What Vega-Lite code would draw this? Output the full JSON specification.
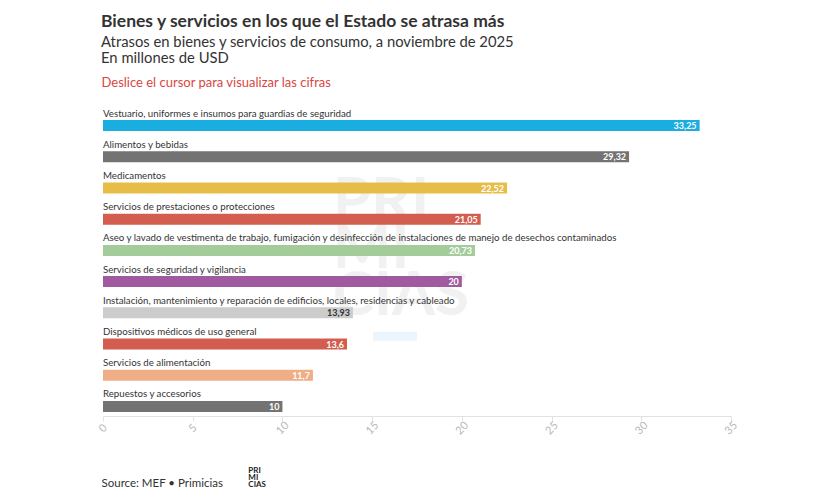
{
  "$schema": "https://vega.github.io/schema/vega-lite/v6.json",
  "width": 628,
  "height": 312,
  "autosize": {"type": "none"},
  "padding": {"left": 103, "top": 110, "right": 101, "bottom": 82},
  "background": "#ffffff",
  "config": {
    "view": {"stroke": null},
    "font": "Lato",
    "locale": {"number": {"decimal": ",", "thousands": ".", "grouping": [3], "currency": ["", " $"]}}
  },
  "title": {
    "text": "Bienes y servicios en los que el Estado se atrasa más",
    "subtitle": ["Atrasos en bienes y servicios de consumo, a noviembre de 2025", "En millones de USD"],
    "anchor": "start",
    "frame": "group",
    "font": "Lato",
    "fontSize": 17.5,
    "fontWeight": "bold",
    "color": "#333333",
    "subtitleFont": "Lato",
    "subtitleFontSize": 14.8,
    "subtitleColor": "#333333",
    "subtitlePadding": 5,
    "subtitleLineHeight": 16,
    "offset": 10,
    "dx": -2
  },
  "datasets": {
    "arrears": [
      {"cat": "Vestuario, uniformes e insumos para guardias de seguridad", "value": 33.25},
      {"cat": "Alimentos y bebidas", "value": 29.32},
      {"cat": "Medicamentos", "value": 22.52},
      {"cat": "Servicios de prestaciones o protecciones", "value": 21.05},
      {"cat": "Aseo y lavado de vestimenta de trabajo, fumigación y desinfección de instalaciones de manejo de desechos contaminados", "value": 20.73},
      {"cat": "Servicios de seguridad y vigilancia", "value": 20},
      {"cat": "Instalación, mantenimiento y reparación de edificios, locales, residencias y cableado", "value": 13.93},
      {"cat": "Dispositivos médicos de uso general", "value": 13.6},
      {"cat": "Servicios de alimentación", "value": 11.7},
      {"cat": "Repuestos y accesorios", "value": 10}
    ],
    "logo": [
      {"w": "PRI MI CIAS", "row": "Servicios de prestaciones o protecciones", "lineRow": "Dispositivos médicos de uso general", "footRow": "Repuestos y accesorios"}
    ]
  },
  "resolve": {"axis": {"x": "independent"}},
  "layer": [
    {
      "data": {"name": "logo"},
      "mark": {"type": "text", "align": "left", "baseline": "alphabetic", "dy": 2, "lineBreak": " ", "lineHeight": 47, "font": "Lato", "fontWeight": "bold", "fontSize": 62, "color": "#f1f1f1"},
      "encoding": {
        "x": {"datum": 12.8, "type": "quantitative", "axis": null},
        "y": {"field": "row", "type": "nominal", "axis": null},
        "text": {"field": "w"}
      }
    },
    {
      "data": {"name": "logo"},
      "mark": {"type": "rule", "strokeWidth": 9, "color": "#ebf5fb"},
      "encoding": {
        "x": {"datum": 15.05, "type": "quantitative", "axis": null},
        "x2": {"datum": 17.5},
        "y": {"field": "lineRow", "type": "nominal", "axis": null, "bandPosition": 0.25}
      }
    },
    {
      "data": {"name": "logo"},
      "mark": {"type": "text", "align": "left", "baseline": "alphabetic", "dy": 67, "lineBreak": " ", "lineHeight": 7, "font": "Lato", "fontWeight": "bold", "fontSize": 8, "color": "#222222"},
      "encoding": {
        "x": {"datum": 8.1, "type": "quantitative", "axis": null},
        "y": {"field": "footRow", "type": "nominal", "axis": null},
        "text": {"field": "w"}
      }
    },
    {
      "data": {"name": "arrears"},
      "mark": {"type": "bar", "height": 11},
      "encoding": {
        "y": {
          "field": "cat", "type": "nominal", "sort": null, "axis": null,
          "scale": {
            "paddingInner": 0, "paddingOuter": 0,
            "domain": [
              "Vestuario, uniformes e insumos para guardias de seguridad",
              "Alimentos y bebidas",
              "Medicamentos",
              "Servicios de prestaciones o protecciones",
              "Aseo y lavado de vestimenta de trabajo, fumigación y desinfección de instalaciones de manejo de desechos contaminados",
              "Servicios de seguridad y vigilancia",
              "Instalación, mantenimiento y reparación de edificios, locales, residencias y cableado",
              "Dispositivos médicos de uso general",
              "Servicios de alimentación",
              "Repuestos y accesorios"
            ]
          }
        },
        "x": {
          "field": "value", "type": "quantitative",
          "scale": {"domain": [0, 35], "nice": false},
          "axis": {
            "orient": "bottom",
            "offset": -6,
            "values": [0, 5, 10, 15, 20, 25, 30, 35],
            "grid": false,
            "domainColor": "#e2e2e2",
            "tickColor": "#e2e2e2",
            "tickSize": 5,
            "labelAngle": -45,
            "labelAlign": "center",
            "labelBaseline": "middle",
            "labelPadding": 7,
            "labelColor": "#b8b8b8",
            "labelFontSize": 11,
            "labelFont": "Lato",
            "title": "Source: MEF • Primicias",
            "titleAnchor": "start",
            "titleAlign": "left",
            "titleBaseline": "alphabetic",
            "titleFont": "Lato",
            "titleFontSize": 11.5,
            "titleFontWeight": "normal",
            "titleColor": "#333333",
            "titlePadding": 50,
            "titleX": -2
          }
        },
        "color": {
          "field": "cat", "type": "nominal", "legend": null,
          "scale": {
            "domain": [
              "Vestuario, uniformes e insumos para guardias de seguridad",
              "Alimentos y bebidas",
              "Medicamentos",
              "Servicios de prestaciones o protecciones",
              "Aseo y lavado de vestimenta de trabajo, fumigación y desinfección de instalaciones de manejo de desechos contaminados",
              "Servicios de seguridad y vigilancia",
              "Instalación, mantenimiento y reparación de edificios, locales, residencias y cableado",
              "Dispositivos médicos de uso general",
              "Servicios de alimentación",
              "Repuestos y accesorios"
            ],
            "range": ["#1aaee0", "#737373", "#e7bd4a", "#d35d4f", "#a4cc9b", "#a05ba0", "#cccccc", "#d35d4f", "#efae86", "#737373"]
          }
        }
      }
    },
    {
      "data": {"name": "arrears"},
      "mark": {"type": "text", "align": "left", "baseline": "middle", "dy": -12, "font": "Lato", "fontSize": 9.7, "color": "#333333"},
      "encoding": {
        "y": {"field": "cat", "type": "nominal", "axis": null},
        "x": {"datum": 0, "type": "quantitative", "axis": null},
        "text": {"field": "cat"}
      }
    },
    {
      "data": {"name": "arrears"},
      "mark": {"type": "text", "align": "right", "baseline": "middle", "dx": -3, "dy": 0.5, "font": "Lato", "fontSize": 9, "fontWeight": "bold"},
      "encoding": {
        "y": {"field": "cat", "type": "nominal", "axis": null},
        "x": {
          "field": "value", "type": "quantitative",
          "axis": {
            "orient": "top",
            "labels": false,
            "ticks": false,
            "domain": false,
            "grid": false,
            "title": "Deslice el cursor para visualizar las cifras",
            "titleAnchor": "start",
            "titleAlign": "left",
            "titleFont": "Lato",
            "titleFontSize": 13,
            "titleFontWeight": "normal",
            "titleColor": "#d9473f",
            "titlePadding": 21,
            "titleX": -2
          }
        },
        "text": {"field": "value", "type": "quantitative", "format": ".4~g"},
        "color": {
          "condition": {"test": "datum.value > 13.9 && datum.value < 14", "value": "#333333"},
          "value": "#ffffff"
        }
      }
    }
  ]
}
